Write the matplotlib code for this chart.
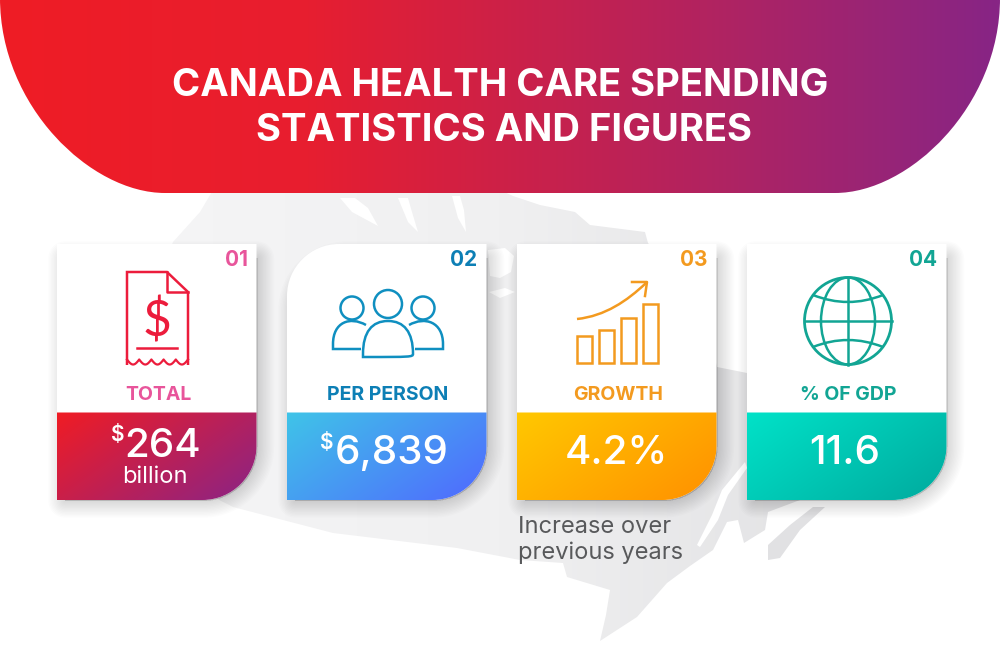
import numpy as np
import matplotlib
matplotlib.use("Agg")
import matplotlib.pyplot as plt
from matplotlib.colors import LinearSegmentedColormap
from matplotlib.patches import Circle, Ellipse, PathPatch, Polygon, Rectangle
from matplotlib.path import Path

plt.rcParams['font.family'] = ['Inter', 'DejaVu Sans']

TITLE_LINES = ["CANADA HEALTH CARE SPENDING", "STATISTICS AND FIGURES"]
CARD_NUMBERS = ["01", "02", "03", "04"]
CARD_LABELS = ["TOTAL", "PER PERSON", "GROWTH", "% OF GDP"]
CARD_VALUES = ["264", "6,839", "4.2%", "11.6"]
CARD_PREFIX = ["$", "$", "", ""]
CARD_UNITS = ["billion", "", "", ""]
NOTE_LINES = ["Increase over", "previous years"]

LABEL_COLORS = ["#e8559b", "#0d7fb5", "#f39a1f", "#12a594"]
ICON_COLORS = ["#ec1c3c", "#0f8fc0", "#f39a1f", "#12a594"]
PANEL_COLORS = [("#f01c24", "#8a2486"), ("#3fc4e8", "#5068ff"),
                ("#ffc800", "#ff9000"), ("#00e2c8", "#00aa9e")]
CARD_LEFT = [57, 287, 517, 747]
CARD_W = 199.5

# rough outline of the country behind the cards
MAP_OUTLINE = [(213, 190), (200, 212), (173, 242), (150, 300), (150, 400), (190, 485),
               (233, 507), (333, 533), (457, 548), (520, 560), (563, 563), (567, 577),
               (610, 590), (606, 615), (600, 641), (637, 617), (667, 583), (690, 566),
               (713, 550), (727, 522), (738, 520), (744, 543), (765, 530), (768, 512),
               (800, 500), (850, 490), (850, 380), (747, 373), (717, 367), (700, 300),
               (648, 243), (645, 232), (590, 225), (575, 212), (540, 205), (513, 196),
               (500, 190)]
NOVA_SCOTIA = [(813, 507), (790, 525), (768, 545), (768, 560), (780, 558), (800, 530), (825, 507)]
MAP_HOLES = [[(340, 198), (352, 212), (378, 226), (368, 208), (355, 198)],
             [(398, 198), (408, 222), (418, 232), (412, 212), (408, 198)],
             [(452, 196), (458, 218), (466, 232), (464, 210), (460, 196)],
             [(488, 250), (505, 248), (514, 256), (511, 272), (500, 278), (490, 276)],
             [(489, 292), (505, 288), (515, 292), (500, 298)],
             [(697, 545), (712, 515), (722, 490), (745, 462), (747, 468), (728, 495), (718, 520), (700, 547)]]


def card_path(x0, y0, x1, y1, tl=0, br=0):
    k = 0.45
    verts = [(x0, y0 + tl)]
    codes = [Path.MOVETO]
    if tl:
        verts += [(x0, y0 + tl * k), (x0 + tl * k, y0), (x0 + tl, y0)]
        codes += [Path.CURVE4] * 3
    verts += [(x1, y0), (x1, y1 - br)]
    codes += [Path.LINETO] * 2
    if br:
        verts += [(x1, y1 - br * k), (x1 - br * k, y1), (x1 - br, y1)]
        codes += [Path.CURVE4] * 3
    verts += [(x0, y1), (x0, y0 + tl)]
    codes += [Path.LINETO, Path.CLOSEPOLY]
    return Path(verts, codes)


def gradient_fill(ax, patch, extent, arr, cmap, z):
    im = ax.imshow(arr, extent=extent, cmap=cmap, vmin=0, vmax=1, aspect='auto',
                   origin='upper', zorder=z, interpolation='bilinear')
    im.set_clip_path(patch)


def draw_receipt(ax, c):
    ax.add_patch(Polygon([(127, 365), (127, 272), (167, 272), (188, 292), (188, 365)],
                         closed=False, fill=False, ec=c, lw=1.8, zorder=6))
    ax.plot([167, 167, 188], [272, 292, 292], color=c, lw=1.8, zorder=6)
    ax.plot([137, 177], [348, 348], color=c, lw=1.8, zorder=6)
    wave = np.linspace(127, 188, 121)
    ax.plot(wave, 359.5 + 5 * np.abs(np.sin((wave - 127) / 61 * 5 * np.pi)), color=c, lw=1.6, zorder=6)
    ax.text(157, 336, "$", color=c, fontsize=36, family='Lato', ha='center', va='baseline', zorder=6)


def draw_people(ax, c):
    for cx, r in [(352, 11.5), (388, 14), (423, 11.5)]:
        cy = 304 if cx == 388 else 308
        ax.add_patch(Circle((cx, cy), r, fill=False, ec=c, lw=1.8, zorder=6))
    dome = Path([(363, 354), (363, 332), (372, 321), (388, 321), (404, 321), (413, 332), (413, 354),
                 (413, 357), (410, 357), (366, 357), (363, 357), (363, 354)],
                [Path.MOVETO, Path.CURVE4, Path.CURVE4, Path.CURVE4, Path.CURVE4, Path.CURVE4, Path.CURVE4,
                 Path.CURVE4, Path.LINETO, Path.LINETO, Path.LINETO, Path.LINETO])
    ax.add_patch(PathPatch(dome, fill=False, ec=c, lw=1.8, zorder=6))
    left = Path([(366, 325), (350, 316), (333, 322), (333, 344), (333, 349), (337, 349), (361, 349)],
                [Path.MOVETO, Path.CURVE4, Path.CURVE4, Path.CURVE4, Path.LINETO, Path.LINETO, Path.LINETO])
    right = Path([(409, 325), (425, 316), (443, 322), (443, 344), (443, 349), (439, 349), (415, 349)],
                 left.codes)
    ax.add_patch(PathPatch(left, fill=False, ec=c, lw=1.8, zorder=6))
    ax.add_patch(PathPatch(right, fill=False, ec=c, lw=1.8, zorder=6))


def draw_growth(ax, c):
    for x0, x1, y0 in [(577, 592, 336), (599, 614, 330), (621, 636, 318), (643, 658, 304)]:
        ax.add_patch(Rectangle((x0, y0), x1 - x0, 362.5 - y0, fill=False, ec=c, lw=1.8, zorder=6))
    curve = Path([(577, 319), (605, 316), (627, 301), (646, 283)],
                 [Path.MOVETO, Path.CURVE4, Path.CURVE4, Path.CURVE4])
    ax.add_patch(PathPatch(curve, fill=False, ec=c, lw=1.8, zorder=6))
    ax.plot([632, 647, 645], [282, 282, 296], color=c, lw=1.8, zorder=6)


def draw_globe(ax, c):
    cx, cy, r = 848, 321, 43.5
    ax.add_patch(Circle((cx, cy), r, fill=False, ec=c, lw=2, zorder=6))
    ax.add_patch(Ellipse((cx, cy), 54, 2 * r, fill=False, ec=c, lw=1.8, zorder=6))
    ax.plot([cx, cx], [cy - r, cy + r], color=c, lw=1.8, zorder=6)
    ax.plot([cx - r, cx + r], [cy, cy], color=c, lw=1.8, zorder=6)
    for sign in (-1, 1):
        arc = Path([(cx - 35, cy + sign * 26), (cx, cy + sign * 12), (cx + 35, cy + sign * 26)],
                   [Path.MOVETO, Path.CURVE3, Path.CURVE3])
        ax.add_patch(PathPatch(arc, fill=False, ec=c, lw=1.8, zorder=6))


fig = plt.figure(figsize=(10, 6.66), dpi=100)
ax = fig.add_axes([0, 0, 1, 1])
ax.set_xlim(0, 1000)
ax.set_ylim(666, 0)
ax.axis('off')

# map behind everything
map_cmap = LinearSegmentedColormap.from_list("map", ["#f5f5f6", "#f0f0f1", "#e1e1e3"])
map_patch = Polygon(MAP_OUTLINE, closed=True, fc='none', ec='none')
ax.add_patch(map_patch)
map_grad = np.linspace(0, 1, 256).reshape(1, -1)
gradient_fill(ax, map_patch, (140, 860, 660, 190), map_grad, map_cmap, 1)
ns_patch = Polygon(NOVA_SCOTIA, closed=True, fc='#e1e1e3', ec='none', zorder=1)
ax.add_patch(ns_patch)
for hole in MAP_HOLES:
    ax.add_patch(Polygon(hole, closed=True, fc='white', ec='none', zorder=1.5))

# header
hk = 0.45
header_verts = [(0, -2), (0, 193 * (1 - hk)), (165 * (1 - hk), 193), (165, 193), (835, 193),
                (1000 - 165 * (1 - hk), 193), (1000, 193 * (1 - hk)), (1000, -2), (0, -2)]
header_codes = [Path.MOVETO, Path.CURVE4, Path.CURVE4, Path.CURVE4, Path.LINETO,
                Path.CURVE4, Path.CURVE4, Path.CURVE4, Path.CLOSEPOLY]
header = PathPatch(Path(header_verts, header_codes), fc='none', ec='none')
ax.add_patch(header)
header_cmap = LinearSegmentedColormap.from_list(
    "head", [(0, "#ef1c25"), (0.3, "#e81e2f"), (0.7, "#b3235f"), (1, "#872585")])
gradient_fill(ax, header, (0, 1000, 193, 0), np.linspace(0, 1, 512).reshape(1, -1), header_cmap, 2)
ax.text(500, 96, TITLE_LINES[0], color='white', fontsize=27.5, weight='bold', ha='center', va='baseline', zorder=3)
ax.text(504, 141, TITLE_LINES[1], color='white', fontsize=27.5, weight='bold', ha='center', va='baseline', zorder=3)

# cards
for i, x0 in enumerate(CARD_LEFT):
    x1 = x0 + CARD_W
    tl = 52 if i == 1 else 0
    outline = card_path(x0, 244, x1, 500, tl=tl, br=54)

    # soft shadow, stacked strokes that get thinner
    shadow = card_path(x0 + 8, 258, x1 + 1, 501, tl=tl, br=54)
    for lw in range(24, 0, -2):
        ax.add_patch(PathPatch(shadow, fc='black', ec='black', lw=lw, alpha=0.011,
                               joinstyle='round', zorder=4))

    ax.add_patch(PathPatch(outline, fc='white', ec='none', zorder=5))

    panel = PathPatch(card_path(x0, 412.5, x1, 500, br=54), fc='none', ec='none')
    ax.add_patch(panel)
    xx, yy = np.meshgrid(np.linspace(0, 1, 200), np.linspace(0, 1, 88))
    diag = 0.62 * xx + 0.38 * yy
    cmap = LinearSegmentedColormap.from_list(f"panel{i}", PANEL_COLORS[i])
    gradient_fill(ax, panel, (x0, x1, 500, 412.5), diag, cmap, 5.5)

    ax.text(x1 - 9, 266.5, CARD_NUMBERS[i], color=LABEL_COLORS[i], fontsize=15, weight='bold',
            ha='right', va='baseline', zorder=7)
    ax.text(x0 + 101, 399.5, CARD_LABELS[i], color=LABEL_COLORS[i], fontsize=14, weight='bold',
            ha='center', va='baseline', zorder=7)

draw_receipt(ax, ICON_COLORS[0])
draw_people(ax, ICON_COLORS[1])
draw_growth(ax, ICON_COLORS[2])
draw_globe(ax, ICON_COLORS[3])

# values
ax.text(162.5, 457, CARD_VALUES[0], color='white', fontsize=29, weight='medium', ha='center', va='baseline', zorder=7)
ax.text(117.5, 441, CARD_PREFIX[0], color='white', fontsize=15, weight='semibold', ha='center', va='baseline', zorder=7)
ax.text(155, 483, CARD_UNITS[0], color='white', fontsize=17, ha='center', va='baseline', zorder=7)
ax.text(392, 464, CARD_VALUES[1], color='white', fontsize=29, weight='medium', ha='center', va='baseline', zorder=7)
ax.text(327, 449, CARD_PREFIX[1], color='white', fontsize=15, weight='semibold', ha='center', va='baseline', zorder=7)
ax.text(616, 464, CARD_VALUES[2], color='white', fontsize=29, weight='medium', ha='center', va='baseline', zorder=7)
ax.text(845, 464, CARD_VALUES[3], color='white', fontsize=29, weight='medium', ha='center', va='baseline', zorder=7)

ax.text(518, 533, NOTE_LINES[0], color='#58595b', fontsize=17, ha='left', va='baseline', zorder=7)
ax.text(518, 559, NOTE_LINES[1], color='#58595b', fontsize=17, ha='left', va='baseline', zorder=7)

fig.savefig("out.png", dpi=100, facecolor='white')
